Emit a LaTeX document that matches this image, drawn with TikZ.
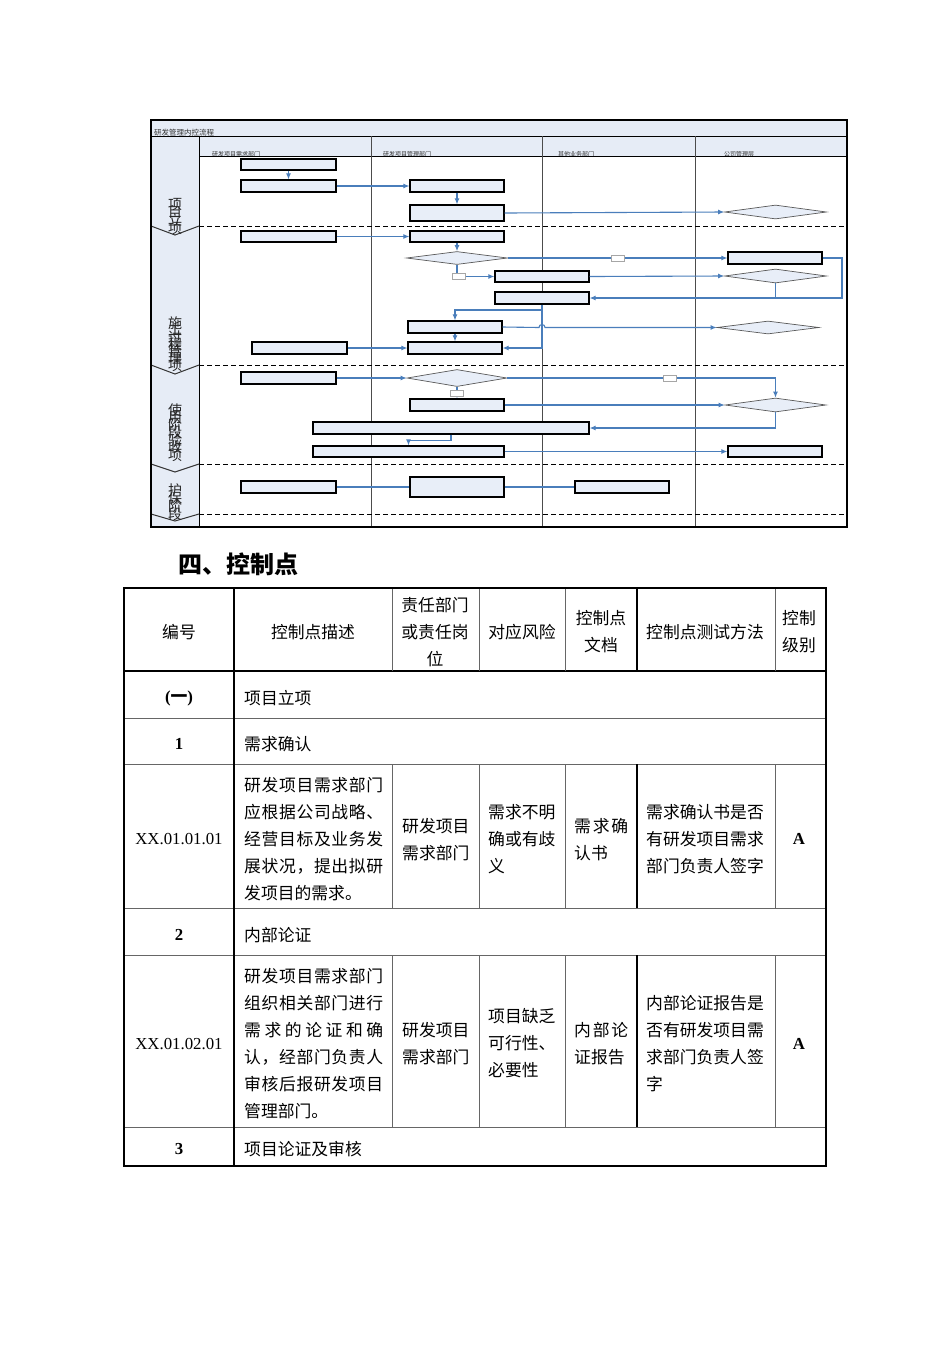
\documentclass[tikz,border=0pt]{standalone}
\usepackage{fontspec}
\setmainfont{Liberation Serif}
\newfontfamily\cjk{Noto Sans CJK SC}
\usetikzlibrary{arrows.meta,shapes.geometric,fit}
\definecolor{lb}{HTML}{E8EEF8}
\definecolor{hd}{HTML}{E6ECF6}
\definecolor{cn}{HTML}{4A7EBB}
\makeatletter
\def\jl@a#1{#1\jl@b}
\def\jl@b#1{\ifx#1\relax\else\hfil#1\expandafter\jl@b\fi}
\newcommand\jline[2]{\hbox to #1{\jl@a#2\relax}}
\def\st@a#1{\ifx#1\relax\else\hbox to 16pt{\hss#1\hss}\expandafter\st@a\fi}
\newcommand\stk[2]{\vbox{\baselineskip=#1\lineskiplimit=-100pt\lineskip=0pt\st@a#2\relax}}
\makeatother
\tikzset{
  box/.style={draw=black, line width=1.2pt, fill=lb, inner sep=0pt},
  dia/.style={diamond, draw=black!65, line width=0.7pt, fill=lb, inner sep=0pt},
  con/.style={draw=cn, line width=1.1pt, -{Latex[length=6pt,width=5pt]}},
  lin/.style={draw=cn, line width=1.1pt},
  lab/.style={draw=black!35, fill=white, line width=0.5pt, inner sep=0pt, minimum width=13pt, minimum height=6pt},
  phaseline/.style={draw=black, dash pattern=on 5pt off 3pt, line width=0.9pt},
  vline/.style={draw=black!70, line width=0.9pt},
  chev/.style={draw=black!80, line width=1pt},
  plabel/.style={font=\cjk\fontsize{14}{14}\selectfont, inner sep=0pt, text=black!85},
  tiny/.style={font=\cjk\fontsize{6}{7}\selectfont, anchor=west, inner sep=0pt, text=black!80},
  tt/.style={font=\cjk\fontsize{16.8}{27}\selectfont, inner sep=0pt},
  tl/.style={tt, anchor=west, align=left},
  tc/.style={tt, align=center},
  tr/.style={font=\fontsize{16.8}{27}\selectfont, inner sep=0pt},
  thick2/.style={draw=black, line width=2pt},
  thin1/.style={draw=black!60, line width=0.9pt},
}
\begin{document}
\begin{tikzpicture}[x=1pt,y=-1pt]
\useasboundingbox (0,0) rectangle (950,1345);
\fill[white] (0,0) rectangle (950,1345);
% ---------------- flowchart frame ----------------
\fill[hd] (151,120) rectangle (847,136);
\fill[hd] (199,136) rectangle (847,156);
\fill[hd] (151,136) rectangle (199,527);
\node[font=\cjk\fontsize{7.5}{8}\selectfont, anchor=west, inner sep=0pt, text=black!80] (ttl) at (154,133) {研发管理内控流程};
\node[tiny] (h1) at (212,154) {研发项目需求部门};
\node[tiny] (h2) at (383,154) {研发项目管理部门};
\node[tiny] (h3) at (558,154) {其他业务部门};
\node[tiny] (h4) at (724,154) {公司管理层};
\draw[black, line width=1pt] (151,136) -- (847,136);
\draw[black, line width=1pt] (199,156) -- (847,156);
\draw[vline] (371,136) -- (371,527);
\draw[vline] (542,136) -- (542,527);
\draw[vline] (695,136) -- (695,527);
\draw[black, line width=1pt] (199,136) -- (199,527);
\foreach \yy in {226,365,464,514} {
  \draw[phaseline] (199,\yy) -- (847,\yy);
}
\draw[chev] (151,226) -- (175,235) -- (199,226);
\draw[chev] (151,365) -- (175,374) -- (199,365);
\draw[chev] (151,464) -- (175,472) -- (199,464);
\draw[chev] (151,514) -- (175,521) -- (199,514);
\node[plabel] (p1) at (175,216.5) {\stk{8pt}{项目立项}};
\node[plabel] (p2) at (175,344.5) {\stk{7pt}{施工过程管理项}};
\node[plabel] (p3) at (175,432.5) {\stk{7.5pt}{使用阶段验收项}};
\node[plabel] (p4) at (175,502.5) {\stk{8pt}{护保阶段}};
\draw[black, line width=1.2pt] (151,120) rectangle (847,527);
% ---------------- boxes ----------------
\node[box, fit={(241,159)(336,170)}] (b1) {};
\node[box, fit={(241,180)(336,192)}] (b2) {};
\node[box, fit={(410,180)(504,192)}] (b3) {};
\node[box, fit={(410,205)(504,221)}] (b3b) {};
\node[dia, minimum width=102pt, minimum height=14pt] (d1) at (775.5,212) {};
\node[box, fit={(241,231)(336,242)}] (b4) {};
\node[box, fit={(410,231)(504,242)}] (b5) {};
\node[dia, minimum width=101pt, minimum height=13pt] (d2) at (457,258) {};
\node[box, fit={(495,271)(589,282)}] (b9) {};
\node[box, fit={(728,252)(822,264)}] (b10) {};
\node[dia, minimum width=102pt, minimum height=14pt] (d3) at (775.5,276) {};
\node[box, fit={(495,292)(589,304)}] (b11) {};
\node[box, fit={(408,321)(502,333)}] (b12) {};
\node[box, fit={(408,342)(502,354)}] (b13) {};
\node[box, fit={(252,342)(347,354)}] (b6) {};
\node[dia, minimum width=102pt, minimum height=13pt] (d4) at (768,327.5) {};
\node[box, fit={(241,372)(336,384)}] (b7) {};
\node[dia, minimum width=100pt, minimum height=17pt] (d5) at (457,378) {};
\node[box, fit={(410,399)(504,411)}] (b14) {};
\node[dia, minimum width=101pt, minimum height=14pt] (d6) at (775.5,405) {};
\node[box, fit={(313,422)(589,434)}] (b15) {};
\node[box, fit={(313,446)(504,457)}] (b16) {};
\node[box, fit={(728,446)(822,457)}] (b17) {};
\node[box, fit={(241,481)(336,493)}] (b8) {};
\node[box, fit={(410,477)(504,497)}] (b18) {};
\node[box, fit={(575,481)(669,493)}] (b19) {};
\coordinate (c1) at (842,298);
\coordinate (c3) at (542,310);
% ---------------- connectors ----------------
\draw[con] (b1.south) -- (b2.north);
\draw[con] (b2.east) -- (b3.west);
\draw[con] (b3.south) -- (b3b.north);
\draw[con] (b3b.east) -- (d1.west);
\draw[con] (b4.east) -- (b5.west);
\draw[con] (b5.south) -- (d2.north);
\draw[con] (d2.south) |- (b9.west);
\node[lab] (l1) at (458.5,276.5) {};
\draw[con] (d2.east) -- (b10.west);
\node[lab] (l2) at (617.5,258) {};
\draw[con] (b9.east) -- (d3.west);
\draw[con] (b10.east) -| (c1) -- (b11.east);
\draw[lin] (d3.south) -- (d3.south |- c1);
\draw[con] (b11.south) |- (b13.east);
\draw[con] (c3) -| (b12.north);
\draw[con] (b12.south) -- (b13.north);
\draw[con] (b12.east) -- (539,327.5) arc[start angle=180, end angle=0, radius=3pt] -- (d4.west);
\draw[con] (b6.east) -- (b13.west);
\draw[con] (b7.east) -- (d5.west);
\draw[con] (d5.east) -| (d6.north);
\node[lab] (l4) at (669.5,378) {};
\draw[con] (d5.south) -- (b14.north);
\node[lab] (l3) at (456.5,393) {};
\draw[con] (b14.east) -- (d6.west);
\draw[con] (d6.south) |- (b15.east);
\draw[con] (b15.south) -- ++(0,6) -| (b16.north);
\draw[con] (b16.east) -- (b17.west);
\draw[lin] (b8.east) -- (b18.west);
\draw[lin] (b18.east) -- (b19.west);
% ---------------- heading ----------------
\node[font=\cjk\bfseries\fontsize{24}{30}\selectfont, anchor=west, inner sep=0pt] (head) at (178,564) {四、控制点};
% ---------------- table ----------------
\foreach \yy in {718,764,908,955,1127} { \draw[thin1] (124,\yy) -- (826,\yy); }
\draw[black, line width=1.6pt] (124,671) -- (826,671);
\foreach \xx in {392,479,565,775} {
  \draw[thin1] (\xx,588) -- (\xx,671);
  \draw[thin1] (\xx,764) -- (\xx,908);
  \draw[thin1] (\xx,955) -- (\xx,1127);
}
\draw[thick2] (637,588) -- (637,671);
\draw[thick2] (637,764) -- (637,908);
\draw[thick2] (637,955) -- (637,1127);
\draw[thick2] (234,588) -- (234,1166);
\draw[black, line width=2.2pt] (124,588) rectangle (826,1166);
% header
\node[tc] (t11) at (179,632) {编号};
\node[tc] (t12) at (313,632) {控制点描述};
\node[tc] (t13) at (435,632) {责任部门\\或责任岗\\位};
\node[tc] (t14) at (522,632) {对应风险};
\node[tc] (t15) at (601,632) {控制点\\文档};
\node[tc] (t16) at (705,632) {控制点测试方法};
\node[tc] (t17) at (799,632) {控制\\级别};
% section rows
\node[tr] (s1) at (179,698) {\bfseries ({\cjk 一})};
\node[tl] (s1t) at (244,698) {项目立项};
\node[tr] (s2) at (179,744) {\bfseries 1};
\node[tl] (s2t) at (244,744) {需求确认};
\node[tr] (s3) at (179,935) {\bfseries 2};
\node[tl] (s3t) at (244,935) {内部论证};
\node[tr] (s4) at (179,1149) {\bfseries 3};
\node[tl] (s4t) at (244,1149) {项目论证及审核};
% row XX.01.01.01
\node[tr] (r1a) at (179,839) {XX.01.01.01};
\node[tl] (r1b) at (244,839) {\jline{139pt}{研发项目需求部门}\\\jline{139pt}{应根据公司战略、}\\\jline{139pt}{经营目标及业务发}\\\jline{139pt}{展状况，提出拟研}\\发项目的需求。};
\node[tl] (r1c) at (402,839.5) {研发项目\\需求部门};
\node[tl] (r1d) at (488,839) {需求不明\\确或有歧\\义};
\node[tl] (r1e) at (574,839.5) {\jline{54pt}{需求确}\\认书};
\node[tl] (r1f) at (646,839) {需求确认书是否\\有研发项目需求\\部门负责人签字};
\node[tr] (r1g) at (799,839) {\bfseries A};
% row XX.01.02.01
\node[tr] (r2a) at (179,1044) {XX.01.02.01};
\node[tl] (r2b) at (244,1043.5) {\jline{139pt}{研发项目需求部门}\\\jline{139pt}{组织相关部门进行}\\\jline{139pt}{需求的论证和确}\\\jline{139pt}{认，经部门负责人}\\\jline{139pt}{审核后报研发项目}\\管理部门。};
\node[tl] (r2c) at (402,1043.5) {研发项目\\需求部门};
\node[tl] (r2d) at (488,1043) {项目缺乏\\可行性、\\必要性};
\node[tl] (r2e) at (574,1043.5) {\jline{54pt}{内部论}\\证报告};
\node[tl] (r2f) at (646,1043.5) {内部论证报告是\\否有研发项目需\\求部门负责人签\\字};
\node[tr] (r2g) at (799,1044) {\bfseries A};
\end{tikzpicture}
\end{document}
